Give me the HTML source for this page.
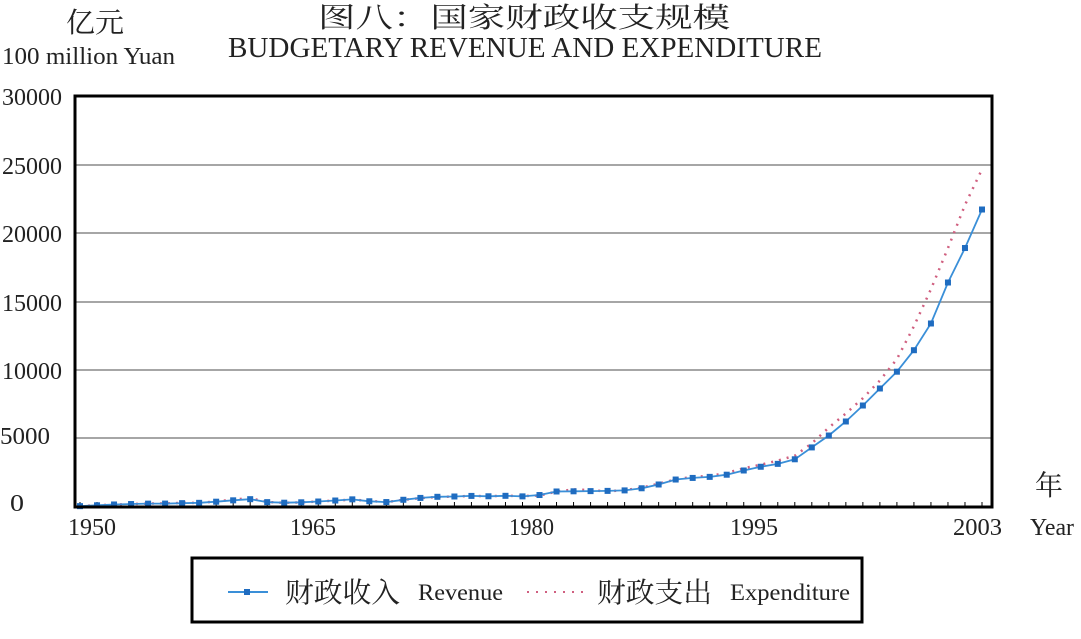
<!DOCTYPE html>
<html><head><meta charset="utf-8"><style>
body{margin:0;background:#fff;width:1081px;height:634px;overflow:hidden}
svg text{font-family:"Liberation Serif","Noto Serif CJK SC",serif;fill:#222}
</style></head><body>
<svg id="s" width="1081" height="634" xmlns="http://www.w3.org/2000/svg">
<text x="66" y="32" font-size="28" textLength="58" lengthAdjust="spacingAndGlyphs">亿元</text>
<text x="2" y="64" font-size="24" textLength="173" lengthAdjust="spacingAndGlyphs">100 million Yuan</text>
<text x="318" y="27" font-size="28" textLength="412" lengthAdjust="spacingAndGlyphs">图八：国家财政收支规模</text>
<text x="228" y="57" font-size="28" textLength="594" lengthAdjust="spacingAndGlyphs">BUDGETARY REVENUE AND EXPENDITURE</text>
<g stroke="#888" stroke-width="1.5">
<line x1="75" x2="993" y1="165" y2="165"/><line x1="75" x2="993" y1="233" y2="233"/>
<line x1="75" x2="993" y1="302" y2="302"/><line x1="75" x2="993" y1="370" y2="370"/>
<line x1="75" x2="993" y1="438" y2="438"/>
</g>
<g font-size="24">
<text x="2" y="105" textLength="60" lengthAdjust="spacingAndGlyphs">30000</text>
<text x="2" y="174" textLength="60" lengthAdjust="spacingAndGlyphs">25000</text>
<text x="2" y="242" textLength="60" lengthAdjust="spacingAndGlyphs">20000</text>
<text x="2" y="311" textLength="60" lengthAdjust="spacingAndGlyphs">15000</text>
<text x="2" y="379" textLength="60" lengthAdjust="spacingAndGlyphs">10000</text>
<text x="0" y="444" textLength="50" lengthAdjust="spacingAndGlyphs">5000</text>
<text x="10" y="511" textLength="14" lengthAdjust="spacingAndGlyphs">0</text>
</g>
<g font-size="24">
<text x="68" y="535" textLength="48" lengthAdjust="spacingAndGlyphs">1950</text>
<text x="290" y="535" textLength="46" lengthAdjust="spacingAndGlyphs">1965</text>
<text x="509" y="535" textLength="45" lengthAdjust="spacingAndGlyphs">1980</text>
<text x="730" y="535" textLength="48" lengthAdjust="spacingAndGlyphs">1995</text>
<text x="953" y="535" textLength="49" lengthAdjust="spacingAndGlyphs">2003</text>
<text x="1030" y="535" textLength="44" lengthAdjust="spacingAndGlyphs">Year</text>
</g>
<text x="1035" y="495" font-size="28" textLength="28" lengthAdjust="spacingAndGlyphs">年</text>
<g id="ticks" stroke="#000" stroke-width="1"></g>
<polyline id="exp" fill="none" stroke="#d06080" stroke-width="2.5" stroke-dasharray="2 6"/>
<polyline id="rev" fill="none" stroke="#3a8fd8" stroke-width="1.8"/>
<g id="mk" fill="#1f6cc0"></g>
<rect x="75" y="96" width="917" height="411" fill="none" stroke="#000" stroke-width="3"/>
<rect x="192" y="558" width="670" height="64" fill="none" stroke="#000" stroke-width="3"/>
<line x1="228" x2="268" y1="592" y2="592" stroke="#3a8fd8" stroke-width="2"/>
<rect x="244" y="589" width="6" height="6" fill="#1f6cc0"/>
<text x="285" y="602" font-size="28" textLength="115" lengthAdjust="spacingAndGlyphs">财政收入</text>
<text x="418" y="600" font-size="23" textLength="85" lengthAdjust="spacingAndGlyphs">Revenue</text>
<line x1="527" x2="590" y1="592" y2="592" stroke="#d06080" stroke-width="2" stroke-dasharray="2 7"/>
<text x="597" y="602" font-size="28" textLength="115" lengthAdjust="spacingAndGlyphs">财政支出</text>
<text x="730" y="600" font-size="23" textLength="120" lengthAdjust="spacingAndGlyphs">Expenditure</text>
</svg>
<script>
var rev=[62,125,184,217,245,250,281,304,387,487,572,356,313,343,400,473,558,419,361,527,663,744,767,809,783,816,776,874,1132,1146,1160,1176,1212,1367,1643,2005,2122,2199,2357,2665,2937,3149,3483,4349,5218,6242,7408,8651,9876,11444,13395,16386,18904,21715];
var exp=[68,122,176,220,245,262,298,296,400,544,643,367,305,339,399,466,541,442,360,526,649,732,766,809,790,821,806,843,1122,1282,1229,1138,1230,1410,1701,2004,2205,2262,2491,2824,3084,3387,3742,4642,5793,6824,7938,9234,10798,13188,15887,18903,22053,24650];
function X(i){return 80+i*902/53}function Y(v){return 507-v*411/30000}
var r=[],e=[],m='',t='';
for(var i=0;i<54;i++){r.push(X(i).toFixed(1)+','+Y(rev[i]).toFixed(1));e.push(X(i).toFixed(1)+','+Y(exp[i]).toFixed(1));
m+='<rect x="'+(X(i)-3)+'" y="'+(Y(rev[i])-3)+'" width="6" height="6"/>';
t+='<line x1="'+X(i)+'" x2="'+X(i)+'" y1="502" y2="507"/>';}
document.getElementById('rev').setAttribute('points',r.join(' '));
document.getElementById('exp').setAttribute('points',e.join(' '));
document.getElementById('mk').innerHTML=m;document.getElementById('ticks').innerHTML=t;
</script>
</body></html>
